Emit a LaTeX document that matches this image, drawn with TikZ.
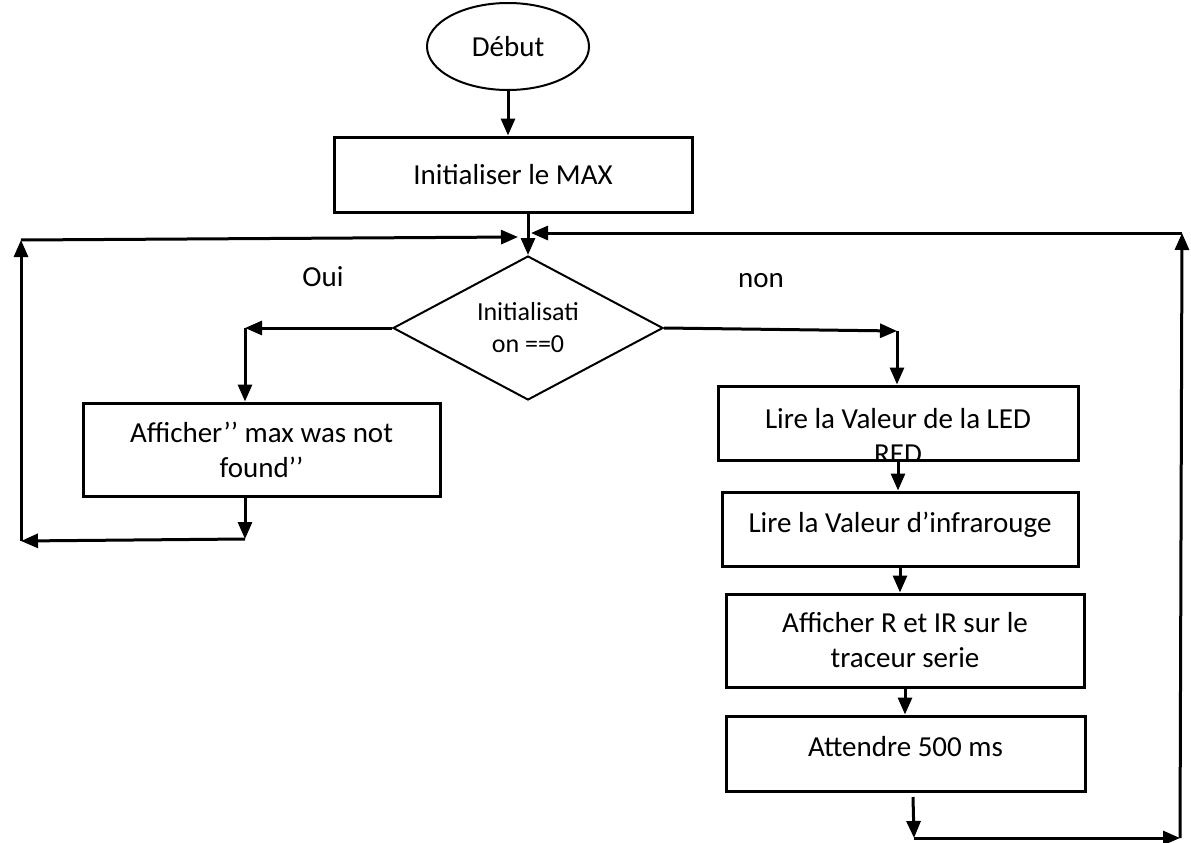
\documentclass[tikz,border=0pt]{standalone}
\usepackage{fontspec}
\setmainfont{Carlito}
\usetikzlibrary{calc}
\usetikzlibrary{arrows.meta}
\usetikzlibrary{shapes.geometric}
\newcommand{\boxfont}{\fontsize{29}{35}\selectfont}
\newcommand{\testfont}{\fontsize{26}{32}\selectfont}
\tikzset{%
  myedge/.style={-{Triangle[length=17pt,width=14pt]}, line width=3pt},
  mybox/.style={rectangle, draw=black, line width=3pt, align=center, font=\boxfont, inner sep=0pt},
  mytest/.style={diamond, draw=black, line width=2pt, align=center, font=\testfont, shape aspect=1.875, inner sep=2pt, minimum width=270pt, minimum height=144pt},
  mystart/.style={ellipse, draw=black, line width=2pt, font=\boxfont, minimum width=162pt, minimum height=87pt},
  mylabel/.style={font=\boxfont, align=center}
}

\begin{document}
\begin{tikzpicture}[x=1pt, y=-1pt]
  \useasboundingbox (0,0) rectangle (1191,843);
  \node[mystart] (debut) at (508,46.5) {Début};
  \node[mybox, minimum width=358pt, minimum height=75pt] (init) at (513,174.5) {Initialiser le MAX};
  \node[mytest] (test) at (528,328) {Initialisati\\on ==0};
  \node[mylabel] (oui) at (323,277) {Oui};
  \node[mylabel] (non) at (761,281) {non};
  \node[mybox, minimum width=357pt, minimum height=93pt] (notfound) at (261.5,449.5) {Afficher’’ max was not\\found’’};
  % second line of the LED box is cut by the box
  \node[mybox, minimum width=360pt, minimum height=74pt] (led) at (898,423) {};
  \begin{scope}
    \clip ($(led.south west)+(3,-3)$) rectangle ($(led.north east)+(-3,3)$);
    \node[mylabel] (ledtext) at (898,436) {Lire la Valeur de la LED\\RED};
  \end{scope}
  \node[mybox, minimum width=356pt, minimum height=74pt, text depth=13pt] (infra) at (900,529) {Lire la Valeur d’infrarouge};
  \node[mybox, minimum width=358pt, minimum height=93pt] (trace) at (905,640.5) {Afficher R et IR sur le\\traceur serie};
  \node[mybox, minimum width=359pt, minimum height=75pt, text depth=15pt] (attend) at (905.5,753.5) {Attendre 500 ms};

  \coordinate (ljoin) at (245,328);
  \coordinate (lbot) at (245,539);
  \coordinate (lcorner) at (21,541);
  \coordinate (ltop) at (21,240);
  \coordinate (lin) at (518,237);
  \coordinate (rjoin) at (897,331);
  \coordinate (rstart) at (913,797);
  \coordinate (rbot) at (914,838);
  \coordinate (rcorner) at (1180,838);
  \coordinate (rtop) at (1182,233);
  \coordinate (rin) at (531,233);

  \draw[myedge] (debut.south) -- (debut.south |- init.north);
  \draw[myedge] (init.south -| test.north) -- (test.north);
  % branche oui
  \draw[myedge] (test.west) -- (ljoin);
  \draw[myedge] (ljoin) -- (ljoin |- notfound.north);
  \draw[myedge] (notfound.south -| ljoin) -- (lbot);
  \draw[myedge] (lbot) -- (lcorner);
  \draw[myedge] (lcorner) -- (ltop);
  \draw[myedge] (ltop) -- (lin);
  % branche non
  \draw[myedge] (test.east) -- (rjoin);
  \draw[myedge] (rjoin) -- (rjoin |- led.north);
  \draw[myedge] (led.south) -- (led.south |- infra.north);
  \draw[myedge] (infra.south) -- (infra.south |- trace.north);
  \draw[myedge] (trace.south) -- (trace.south |- attend.north);
  \draw[myedge] (rstart) -- (rbot);
  \draw[myedge] (rbot) -- (rcorner);
  \draw[myedge] (rcorner) -- (rtop);
  \draw[myedge] (rtop) -- (rin);
\end{tikzpicture}
\end{document}
